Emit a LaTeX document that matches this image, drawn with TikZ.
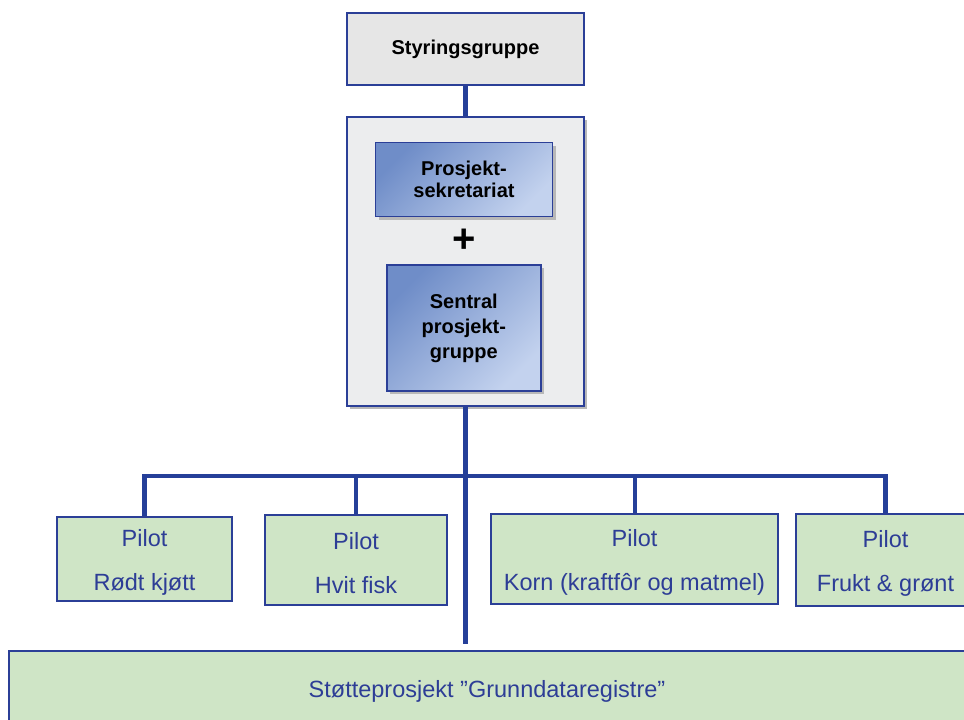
\documentclass[tikz,border=0pt]{standalone}
\usepackage{fontspec}
\setmainfont{Liberation Sans}
\usetikzlibrary{shadows}
\definecolor{edgeblue}{HTML}{2B3F97}
\definecolor{linkblue}{HTML}{253F99}
\definecolor{textblue}{HTML}{2D3D96}
\definecolor{pilotgreen}{HTML}{CFE5C6}
\definecolor{headgray}{HTML}{E6E6E6}
\definecolor{panelgray}{HTML}{ECEDEE}
\definecolor{bluedark}{HTML}{6F8DC8}
\definecolor{bluelight}{HTML}{C3D2EE}
\begin{document}
\begin{tikzpicture}[x=1pt,y=-1pt,
  frame/.style={draw=edgeblue, line width=2pt, inner sep=0pt, rectangle},
  softshadow/.style={drop shadow={shadow xshift=3pt, shadow yshift=-3pt, fill=black!28, opacity=1}},
  headbox/.style={frame, fill=headgray, font=\bfseries\fontsize{20}{22}\selectfont},
  panel/.style={frame, fill=panelgray, softshadow},
  bluebox/.style={frame, line width=1.5pt, top color=bluedark, bottom color=bluelight, shading angle=45,
    softshadow, align=center},
  pilotbox/.style={frame, fill=pilotgreen},
  pilottext/.style={text=textblue, align=center, inner sep=0pt, yshift=-3pt,
    font=\fontsize{23.5}{44}\selectfont},
  link/.style={draw=linkblue, line width=4.5pt},
  drop/.style={draw=linkblue, line width=4pt}]
\useasboundingbox (0,0) rectangle (964,720);

% steering group and secretariat panel
\node[headbox, minimum width=237pt, minimum height=72pt] (styr) at (465.5,49) {Styringsgruppe};
\node[panel, minimum width=237pt, minimum height=289pt] (panel) at (465.5,261.7) {};
\node[bluebox, minimum width=177pt, minimum height=74pt,
      font=\bfseries\fontsize{20}{22}\selectfont] (sekr) at (464,179.7) {Prosjekt-\\sekretariat};
\node[font=\bfseries\fontsize{40}{40}\selectfont, inner sep=0pt] (plus) at (464.5,241) {+};
\node[bluebox, minimum width=154pt, minimum height=126pt,
      font=\bfseries\fontsize{20}{25}\selectfont] (sentral) at (463.8,328) {Sentral\\prosjekt-\\gruppe};

% pilot projects
\node[pilotbox, minimum width=175pt, minimum height=84pt,
      label={[pilottext]center:{Pilot\\Rødt kjøtt}}] (p1) at (144.5,559) {};
\node[pilotbox, minimum width=182pt, minimum height=90pt,
      label={[pilottext]center:{Pilot\\Hvit fisk}}] (p2) at (356,560) {};
\node[pilotbox, minimum width=287pt, minimum height=90pt,
      label={[pilottext]center:{Pilot\\Korn (kraftfôr og matmel)}}] (p3) at (634.5,559) {};
\node[pilotbox, minimum width=179pt, minimum height=92pt,
      label={[pilottext]center:{Pilot\\Frukt \& grønt}}] (p4) at (885.5,560) {};

% support project
\node[frame, fill=pilotgreen, text=textblue, font=\fontsize{23.5}{28}\selectfont,
      minimum width=956pt, minimum height=80pt] (stotte) at (487,691) {Støtteprosjekt ”Grunndataregistre”};

% connectors
\coordinate (bar) at (465.5,476);
\draw[link] (styr.south) -- (panel.north);
\draw[link, shorten >=6pt] (panel.south) -- (panel.south |- stotte.north);
\draw[link, line join=miter] (p1.north) |- (bar) -| (p4.north);
\draw[drop] (p2.north) -- (p2.north |- bar);
\draw[drop] (p3.north) -- (p3.north |- bar);
\end{tikzpicture}
\end{document}
